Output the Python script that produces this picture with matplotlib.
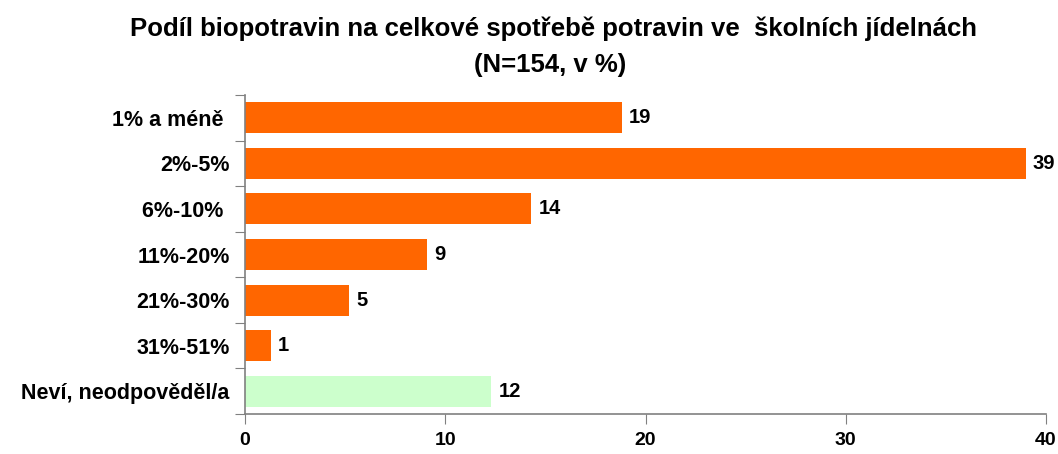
import numpy as np
import matplotlib.pyplot as plt

# data
categories = ["1% a méně ", "2%-5%", "6%-10% ", "11%-20%", "21%-30%", "31%-51%", "Neví, neodpověděl/a"]
shares = [18.8, 39.0, 14.3, 9.1, 5.2, 1.3, 12.3]
colors = ["#FF6600"] * 6 + ["#CCFFCC"]
x_ticks = [0, 10, 20, 30, 40]

plt.rcParams['font.family'] = ['Liberation Sans', 'DejaVu Sans']
plt.rcParams['font.weight'] = 'bold'

fig = plt.figure(figsize=(10.58, 4.54), dpi=100)
ax = fig.add_axes([0.2316, 0.0881, 0.7571, 0.7026])

pos = np.arange(len(categories))
bars = ax.barh(pos, shares, height=0.68, color=colors)
ax.bar_label(bars, fmt='%.0f', padding=5, fontsize=14.5, fontweight='bold')

ax.set_xlim(0, 40)
ax.set_ylim(len(categories) - 0.5, -0.5)
ax.set_xticks(x_ticks)
ax.set_xticklabels([str(t) for t in x_ticks], fontsize=14, fontweight='bold')

# tick lines sit between categories, labels at the bar centres
ax.set_yticks(np.arange(len(categories) + 1) - 0.5)
ax.set_yticklabels([])
ax.set_yticks(pos, minor=True)
ax.set_yticklabels(categories, minor=True, fontsize=15.5, fontweight='bold')
ax.tick_params(axis='y', which='minor', length=0, pad=11)
ax.tick_params(axis='y', which='major', length=7, color='#808080')
ax.tick_params(axis='x', length=7, color='#808080', pad=6)

for side in ['top', 'right']:
    ax.spines[side].set_visible(False)
for side in ['left', 'bottom']:
    ax.spines[side].set_color('#808080')
    ax.spines[side].set_linewidth(1.2)

fig.text(0.523, 0.936, "Podíl biopotravin na celkové spotřebě potravin ve  školních jídelnách",
         ha='center', va='center', fontsize=18.5, fontweight='bold')
fig.text(0.52, 0.857, "(N=154, v %)", ha='center', va='center', fontsize=18.5, fontweight='bold')

fig.savefig("out.png", dpi=100)
